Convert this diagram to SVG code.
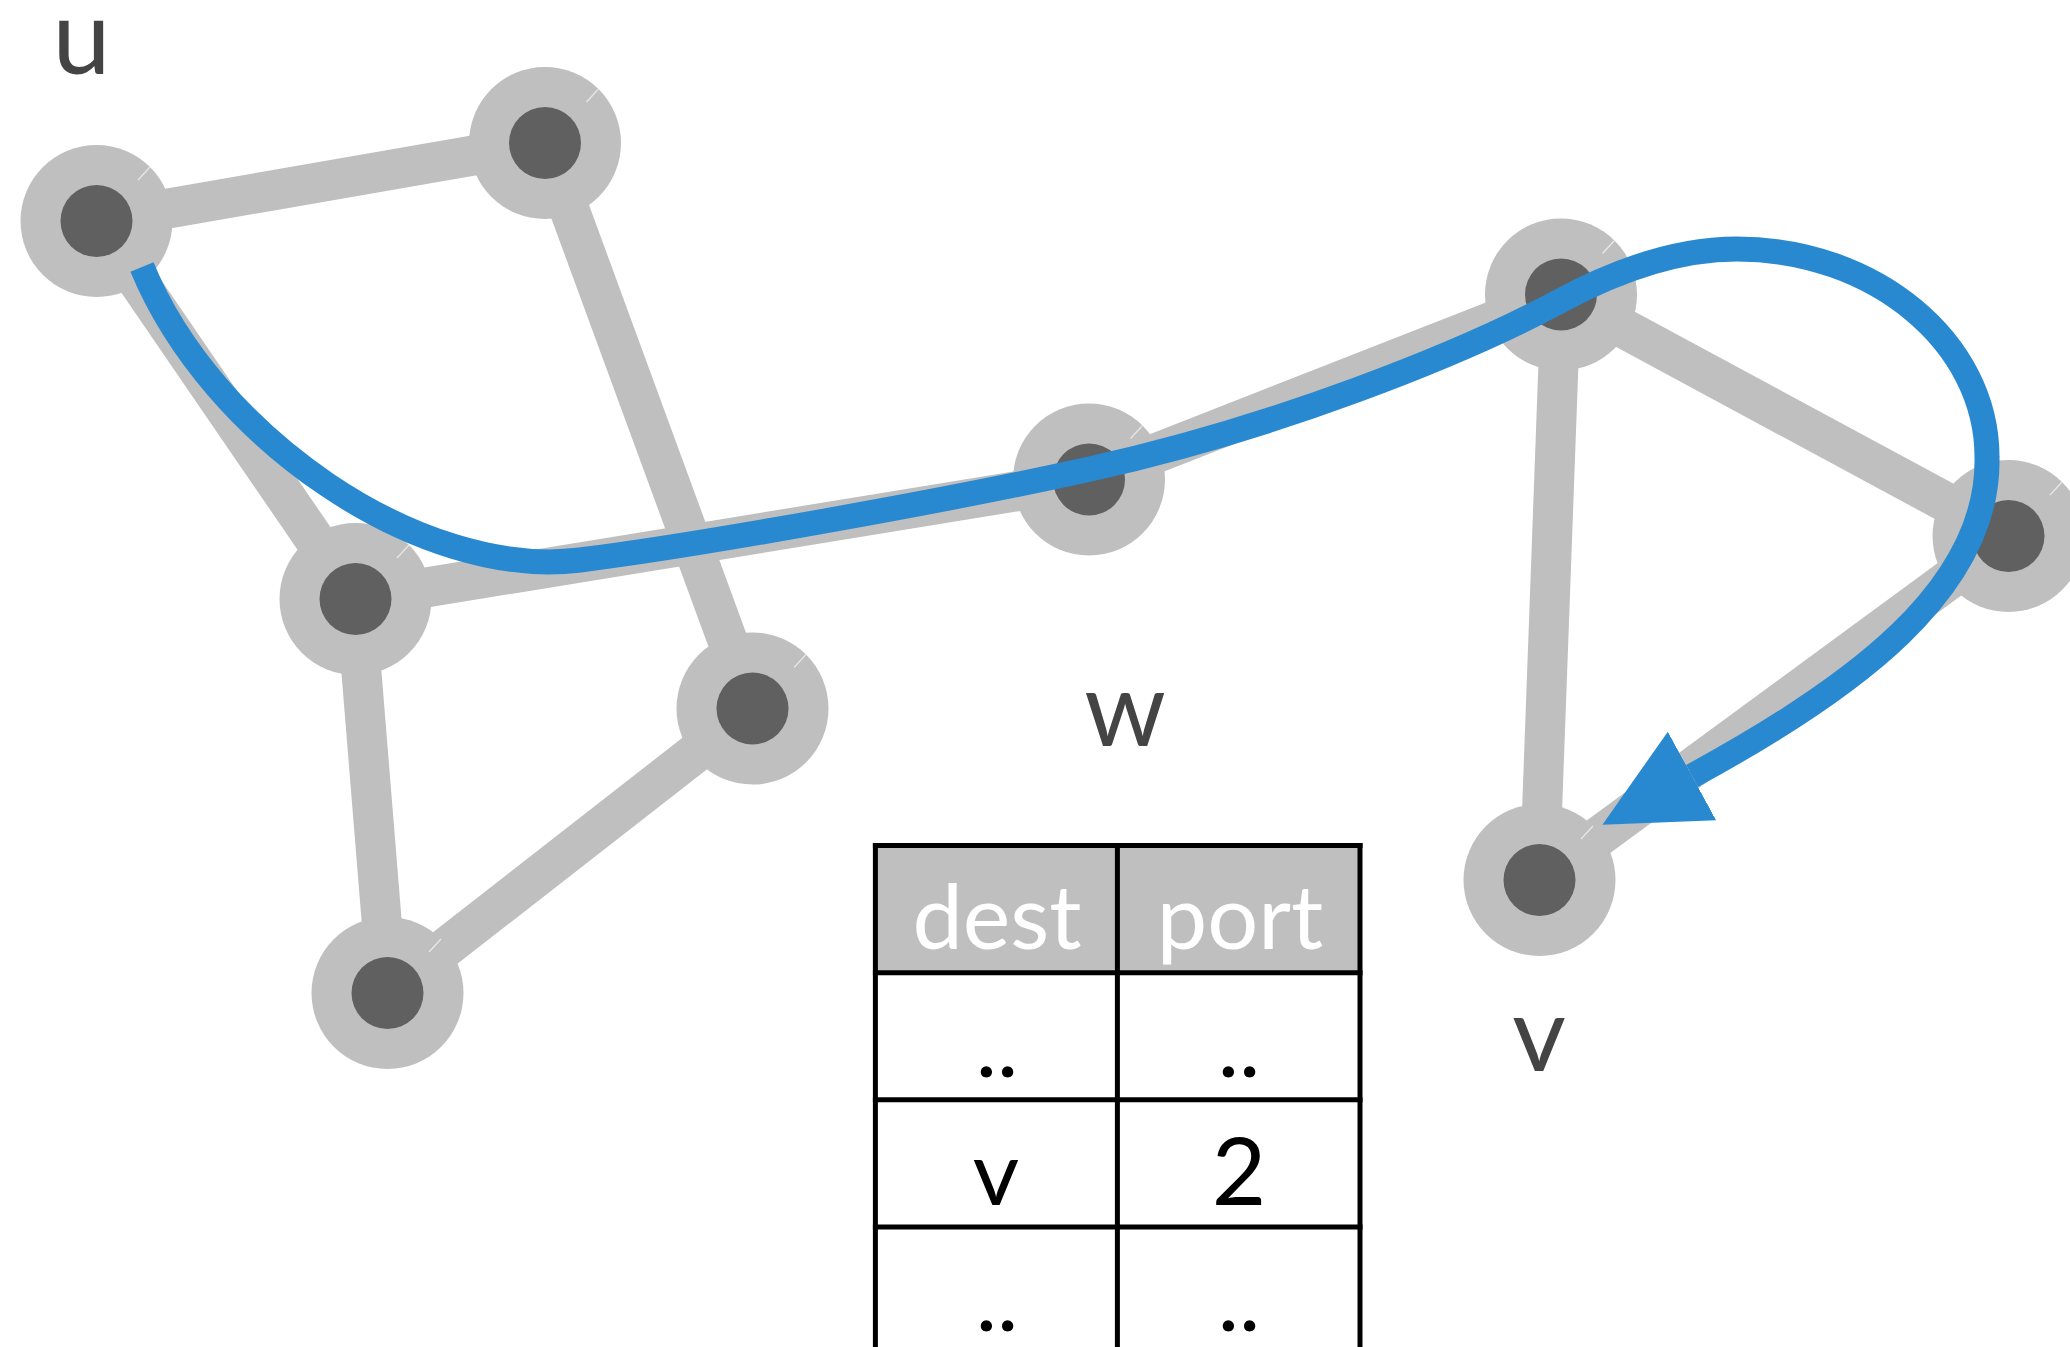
<svg xmlns="http://www.w3.org/2000/svg" width="2070" height="1347" viewBox="0 0 2070 1347">
<style>
.edge{stroke:#bfbfbf;stroke-width:40;stroke-linecap:butt;fill:none}
.ring{fill:#bfbfbf}
.core{fill:#606060}
.tick{stroke:#e8e8e8;stroke-width:1.2}
.lbl{font-family:Lato,"Open Sans",sans-serif;font-size:104px;fill:#444444;text-anchor:middle}
.cell{font-family:Lato,"Open Sans",sans-serif;font-size:90px;fill:#000;text-anchor:middle}
.head{fill:#fff}
.grid{stroke:#000;stroke-width:5;fill:none}
</style>
<defs>
<marker id="arrow" markerUnits="userSpaceOnUse" markerWidth="110" markerHeight="110" refX="0" refY="50.5" orient="auto">
<path d="M0,0 L102,50.5 L0,101 Z" fill="#2889d1"/>
</marker>
</defs>
<rect width="2070" height="1347" fill="#fff"/>
<g id="connectors">
<line class="edge" x1="96.5" y1="221" x2="545" y2="143"/>
<line class="edge" x1="96.5" y1="221" x2="355.5" y2="599"/>
<line class="edge" x1="545" y1="143" x2="752.5" y2="708.5"/>
<line class="edge" x1="355.5" y1="599" x2="1089" y2="479.5"/>
<line class="edge" x1="355.5" y1="599" x2="387.5" y2="993"/>
<line class="edge" x1="387.5" y1="993" x2="752.5" y2="708.5"/>
<line class="edge" x1="1089" y1="479.5" x2="1561" y2="294.5"/>
<line class="edge" x1="1561" y1="294.5" x2="2008.5" y2="536"/>
<line class="edge" x1="1561" y1="294.5" x2="1539.5" y2="880"/>
<line class="edge" x1="1539.5" y1="880" x2="2008.5" y2="536"/>
</g>
<g id="n1"><circle class="ring" cx="96.5" cy="221" r="76"/><circle class="core" cx="96.5" cy="221" r="36"/><line class="tick" x1="150" y1="167" x2="138" y2="180"/></g>
<g id="n2"><circle class="ring" cx="545" cy="143" r="76"/><circle class="core" cx="545" cy="143" r="36"/><line class="tick" x1="598.5" y1="89" x2="586.5" y2="102"/></g>
<g id="n3"><circle class="ring" cx="355.5" cy="599" r="76"/><circle class="core" cx="355.5" cy="599" r="36"/><line class="tick" x1="409" y1="545" x2="397" y2="558"/></g>
<g id="n4"><circle class="ring" cx="752.5" cy="708.5" r="76"/><circle class="core" cx="752.5" cy="708.5" r="36"/><line class="tick" x1="806" y1="654.5" x2="794" y2="667.5"/></g>
<g id="n5"><circle class="ring" cx="387.5" cy="993" r="76"/><circle class="core" cx="387.5" cy="993" r="36"/><line class="tick" x1="441" y1="939" x2="429" y2="952"/></g>
<g id="n6"><circle class="ring" cx="1089" cy="479.5" r="76"/><circle class="core" cx="1089" cy="479.5" r="36"/><line class="tick" x1="1142.5" y1="425.5" x2="1130.5" y2="438.5"/></g>
<g id="n7"><circle class="ring" cx="1561" cy="294.5" r="76"/><circle class="core" cx="1561" cy="294.5" r="36"/><line class="tick" x1="1614.5" y1="240.5" x2="1602.5" y2="253.5"/></g>
<g id="n8"><circle class="ring" cx="2008.5" cy="536" r="76"/><circle class="core" cx="2008.5" cy="536" r="36"/><line class="tick" x1="2062" y1="482" x2="2050" y2="495"/></g>
<g id="n9"><circle class="ring" cx="1539.5" cy="880" r="76"/><circle class="core" cx="1539.5" cy="880" r="36"/><line class="tick" x1="1593" y1="826" x2="1581" y2="839"/></g>
<g id="route">
<path d="M142,267 C212,437 420,580 580,560 C700,545 950,500 1090,469 C1272,429 1460,355 1560,301 C1620,268.6 1680,249 1737,249 C1874,249 1987,342 1987,457 C1990,590 1850,690 1692,776" fill="none" stroke="#2889d1" stroke-width="25" marker-end="url(#arrow)"/>
</g>
<g id="labels">
<text class="lbl" x="81.5" y="74">u</text>
<text class="lbl" x="1125" y="746">w</text>
<text class="lbl" x="1539" y="1071">v</text>
</g>
<g id="table">
<rect x="875.4" y="845.4" width="484.6" height="127.4" fill="#bfbfbf"/>
<line class="grid" x1="875.4" y1="842.9" x2="875.4" y2="1352"/>
<line class="grid" x1="1117.4" y1="842.9" x2="1117.4" y2="1352"/>
<line class="grid" x1="1360" y1="842.9" x2="1360" y2="1352"/>
<line class="grid" x1="872.9" y1="845.4" x2="1362.5" y2="845.4"/>
<line class="grid" x1="872.9" y1="972.8" x2="1362.5" y2="972.8"/>
<line class="grid" x1="872.9" y1="1099.8" x2="1362.5" y2="1099.8"/>
<line class="grid" x1="872.9" y1="1227" x2="1362.5" y2="1227"/>
<text class="cell head" x="997" y="949">dest</text>
<text class="cell head" x="1240" y="949">port</text>
<text class="cell" x="997" y="1077">..</text>
<text class="cell" x="1239" y="1077">..</text>
<text class="cell" x="996" y="1205">v</text>
<text class="cell" x="1239" y="1205" style="font-size:94px">2</text>
<text class="cell" x="997" y="1331">..</text>
<text class="cell" x="1239" y="1331">..</text>
</g>
</svg>
